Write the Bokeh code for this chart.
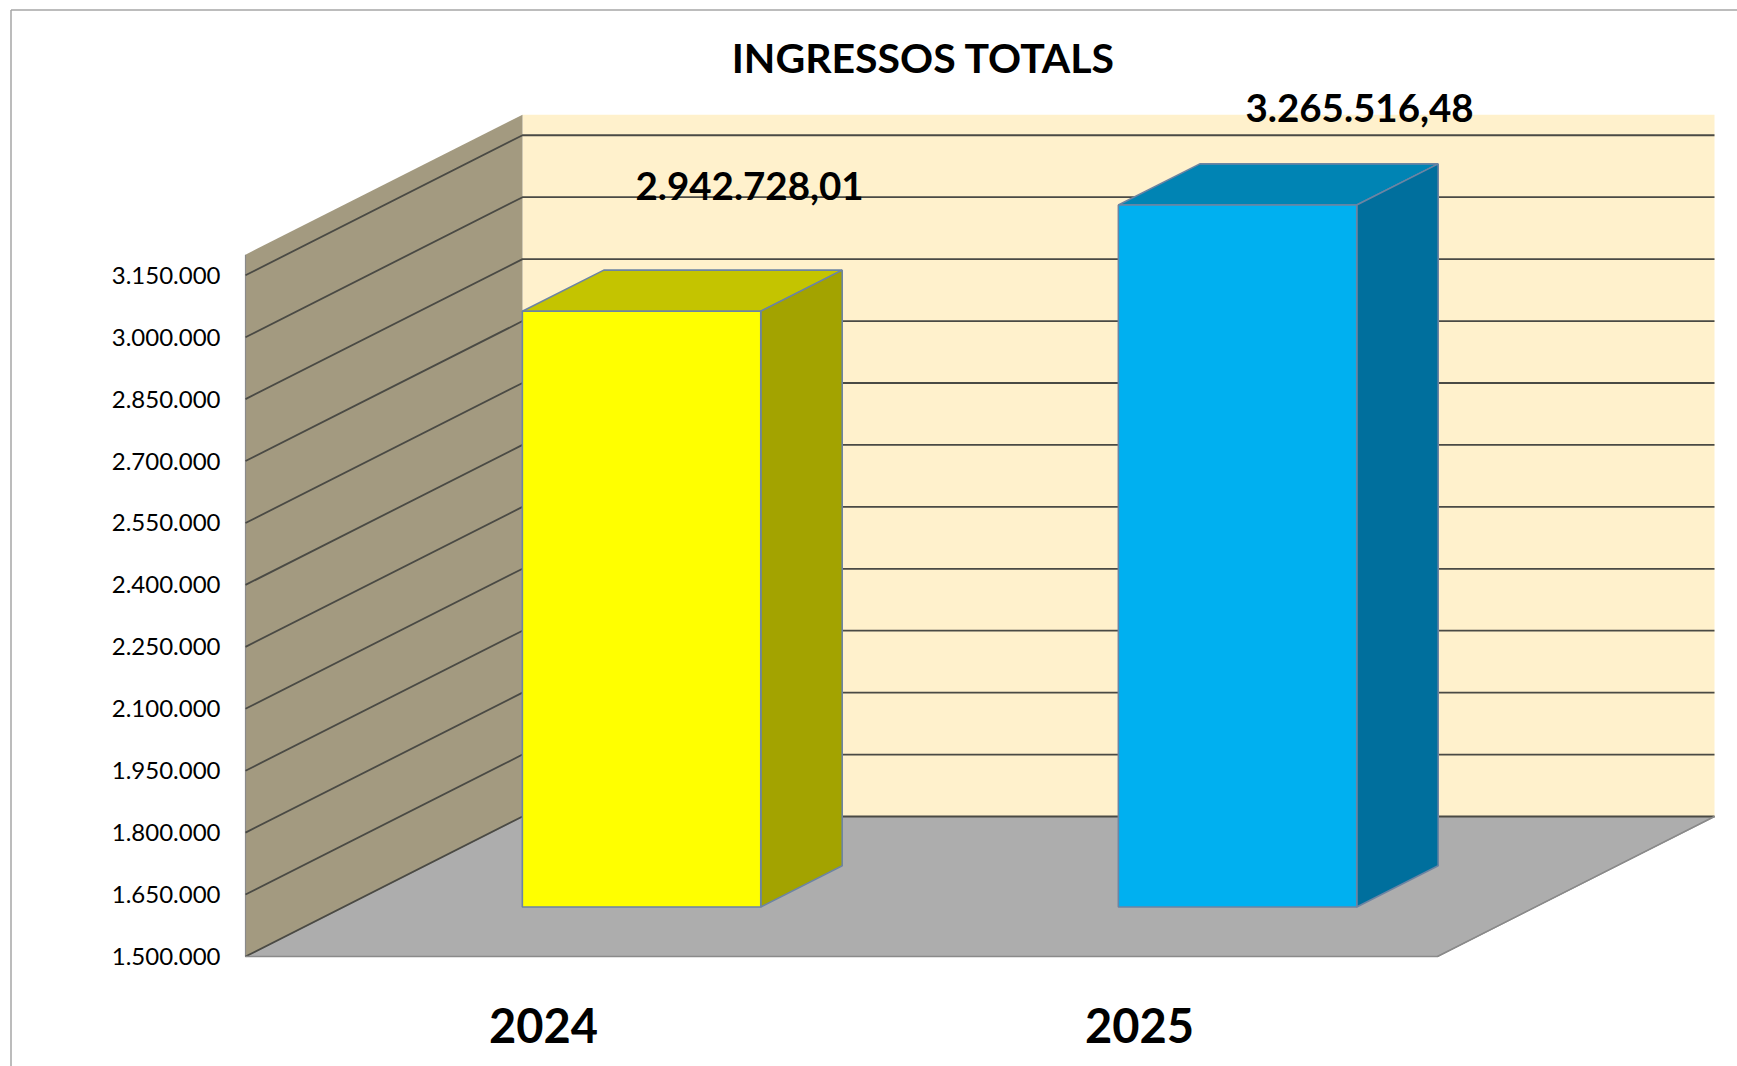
from bokeh.plotting import figure
from bokeh.models import ColumnDataSource, LinearAxis, FixedTicker, Range1d
from bokeh.core.properties import value
from bokeh.embed import file_html
from bokeh.resources import INLINE

# ---- data
years = ["2024", "2025"]
totals = [2942728.01, 3265516.48]
tick_values = [1500000, 1650000, 1800000, 1950000, 2100000, 2250000,
               2400000, 2550000, 2700000, 2850000, 3000000, 3150000]
tick_labels = ["1.500.000", "1.650.000", "1.800.000", "1.950.000", "2.100.000", "2.250.000",
               "2.400.000", "2.550.000", "2.700.000", "2.850.000", "3.000.000", "3.150.000"]
axis_min = 1500000
axis_max = 3200000
title_text = "INGRESSOS TOTALS"
face_colors = ["#FFFF00", "#00B0F0"]
top_colors = ["#C4C400", "#0084B4"]
side_colors = ["#A3A300", "#006F9D"]
label_dx = [108, 122]
label_dy = [125, 97]

# ---- layout
W, H = 1737, 1066
PX_PER_CAT = 596.0
PX_PER_STEP = 61.93
UNITS_PER_PX = 150000 / PX_PER_STEP
ORIGIN_X, ORIGIN_Y = 245.0, 956.0     # wall front bottom, in figure pixels
X0 = 0.5                               # left edge of the first category
DX = 277 / PX_PER_CAT                  # depth shift per full depth
DY = 140.0 * UNITS_PER_PX
D0, D1 = 0.354, 0.648                  # bar front and back depth
BAR_W = 0.4


def X(px):
    return X0 + (px - ORIGIN_X) / PX_PER_CAT


def Y(py):
    return axis_min + (ORIGIN_Y - py) * UNITS_PER_PX


def proj(x, y, d):
    return x + d * DX, y + d * DY


def poly(points):
    pts = [proj(*q) for q in points]
    return [a for a, _ in pts], [b for _, b in pts]


p = figure(width=W, height=H, output_backend="svg", toolbar_location=None,
           x_range=Range1d(X(0), X(W)), y_range=Range1d(Y(H), Y(0)),
           x_axis_type=None, y_axis_type=None, min_border=0,
           background_fill_color="white", border_fill_color="white",
           outline_line_color=None)
p.grid.visible = False

# outer chart frame
p.segment(x0=[X(10.5), X(10.5)], y0=[Y(9.5), Y(9.5)], x1=[X(W), X(10.5)], y1=[Y(9.5), Y(H)],
          line_color="#A6A6A6", line_width=1.5)

x_l, x_r = 0.5, 2.5
wall_color = "#A39A80"
edge_gray = "#8A8A8A"

# floor
xs, ys = poly([(x_l, axis_min, 0), (x_r, axis_min, 0), (x_r, axis_min, 1), (x_l, axis_min, 1)])
p.patch(xs, ys, fill_color="#ADADAD", line_color=edge_gray, line_width=1.2)
# back wall
xs, ys = poly([(x_l, axis_min, 1), (x_r, axis_min, 1), (x_r, axis_max, 1), (x_l, axis_max, 1)])
p.patch(xs, ys, fill_color="#FFF1CC", line_color=None)
# side wall
xs, ys = poly([(x_l, axis_min, 0), (x_l, axis_min, 1), (x_l, axis_max, 1), (x_l, axis_max, 0)])
p.patch(xs, ys, fill_color=wall_color, line_color=None)
p.line([X(ORIGIN_X)] * 2, [axis_min, axis_max], line_color=edge_gray, line_width=1.2)

# gridlines on both walls
for t in tick_values:
    xs, ys = poly([(x_l, t, 0), (x_l, t, 1), (x_r, t, 1)])
    p.line(xs, ys, line_color="#4A4A44", line_width=1.8)
# front edge of the floor redrawn on top of the wall
xs, ys = poly([(x_l, axis_min, 0), (x_r, axis_min, 0), (x_r, axis_min, 1)])
p.line(xs, ys, line_color=edge_gray, line_width=1.5)

# bars
bar_line = "#6C84A3"
for i, v in enumerate(totals):
    c = i + 1
    left, right = c - BAR_W / 2, c + BAR_W / 2
    top = min(v, axis_max)
    xs, ys = poly([(left, top, D0), (right, top, D0), (right, top, D1), (left, top, D1)])
    p.patch(xs, ys, fill_color=top_colors[i], line_color=bar_line, line_width=1.6)
    xs, ys = poly([(right, axis_min, D0), (right, axis_min, D1), (right, top, D1), (right, top, D0)])
    p.patch(xs, ys, fill_color=side_colors[i], line_color=bar_line, line_width=1.6)
    xs, ys = poly([(left, axis_min, D0), (right, axis_min, D0), (right, top, D0), (left, top, D0)])
    p.patch(xs, ys, fill_color=face_colors[i], line_color=bar_line, line_width=1.6)

# axes placed inside the frame
yaxis = LinearAxis(ticker=FixedTicker(ticks=tick_values),
                   major_label_overrides=dict(zip(tick_values, tick_labels)),
                   fixed_location=X(ORIGIN_X), axis_line_color=None,
                   major_tick_line_color=None, minor_tick_line_color=None,
                   major_label_standoff=19, major_label_text_font="Lato",
                   major_label_text_font_size="24px", major_label_text_color="#000000")
p.add_layout(yaxis, "left")
xaxis = LinearAxis(ticker=FixedTicker(ticks=[1, 2]),
                   major_label_overrides={1: years[0], 2: years[1]},
                   fixed_location=axis_min, axis_line_color=None,
                   major_tick_line_color=None, minor_tick_line_color=None,
                   major_label_standoff=45, major_label_text_font="Lato",
                   major_label_text_font_style="bold",
                   major_label_text_font_size="47px", major_label_text_color="#000000")
p.add_layout(xaxis, "below")

# value labels
fmt = [f"{v:,.2f}".replace(",", "#").replace(".", ",").replace("#", ".") for v in totals]
src = ColumnDataSource(dict(
    x=[proj(i + 1, min(v, axis_max), D0)[0] for i, v in enumerate(totals)],
    y=[proj(i + 1, min(v, axis_max), D0)[1] for i, v in enumerate(totals)],
    text=fmt, dx=label_dx, dy=[-d for d in label_dy]))
p.text("x", "y", text="text", source=src, x_offset="dx", y_offset="dy",
       text_align="center", text_baseline="middle",
       text_font=value("Lato"), text_font_style="bold", text_font_size="38.5px", text_color="#000000")

# title
p.text([X(923)], [Y(57)], text=[title_text], text_align="center", text_baseline="middle",
       text_font=value("Lato"), text_font_style="bold", text_font_size="41px", text_color="#000000")

open("out.html", "w").write(file_html(p, INLINE))
